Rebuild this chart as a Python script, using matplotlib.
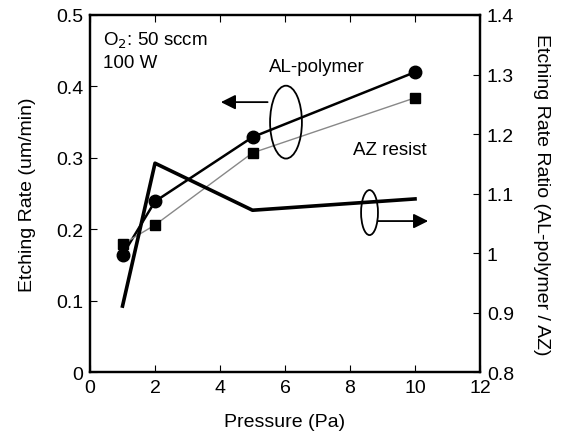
import matplotlib
matplotlib.use("Agg")
import matplotlib.pyplot as plt
from matplotlib.patches import Ellipse
from matplotlib.ticker import FuncFormatter

plt.rcParams['font.family'] = ['Liberation Sans', 'DejaVu Sans']

# data
pressure = [1, 2, 5, 10]
al_polymer = [0.164, 0.239, 0.329, 0.420]   # um/min
az_resist = [0.179, 0.206, 0.307, 0.384]    # um/min
ratio = [0.911, 1.151, 1.072, 1.091]        # AL-polymer / AZ

fig = plt.figure(figsize=(5.64, 4.39), dpi=100)
ax = fig.add_axes([0.1596, 0.150, 0.6915, 0.8136])
ax2 = ax.twinx()

ax.plot(pressure, al_polymer, "-", color="black", lw=1.8,
        marker="o", ms=9, zorder=3)
ax.plot(pressure, az_resist, "-", color="#888888", lw=1.0,
        marker="s", ms=7, mfc="black", mec="black", zorder=3)
ax2.plot(pressure, ratio, "-", color="black", lw=2.6)

ax.set_xlim(0, 12)
ax.set_ylim(0, 0.5)
ax2.set_ylim(0.8, 1.4)
ax.set_xticks(range(0, 13, 2))
ax.set_yticks([0, 0.1, 0.2, 0.3, 0.4, 0.5])
ax2.set_yticks([0.8, 0.9, 1.0, 1.1, 1.2, 1.3, 1.4])
fmt = FuncFormatter(lambda v, p: "%g" % round(v, 2))
ax.yaxis.set_major_formatter(fmt)
ax2.yaxis.set_major_formatter(fmt)

ax.tick_params(axis="x", direction="in", top=True, length=5, labelsize=14, pad=5)
ax.tick_params(axis="y", direction="in", length=5, labelsize=14, pad=5)
ax2.tick_params(axis="y", direction="in", length=5, labelsize=14, pad=5)
for a in (ax, ax2):
    for s in a.spines.values():
        s.set_linewidth(1.6)

ax.set_xlabel("Pressure (Pa)", fontsize=14, labelpad=12)
ax.set_ylabel("Etching Rate (um/min)", fontsize=14, labelpad=14)
ax2.set_ylabel("Etching Rate Ratio (AL-polymer / AZ)", fontsize=14,
               rotation=270, labelpad=26)

# annotations
ax.text(0.4, 0.465, "O$_2$: 50 sccm", fontsize=13.5, va="center")
ax.text(0.4, 0.434, "100 W", fontsize=13.5, va="center")
ax.text(5.5, 0.428, "AL-polymer", fontsize=13.5, va="center")
ax.text(8.1, 0.312, "AZ resist", fontsize=13.5, va="center")

ax.add_patch(Ellipse((6.03, 0.350), 0.98, 0.102, fill=False, lw=1.3,
                     color="black", zorder=4))
ax.annotate("", xy=(3.94, 0.378), xytext=(5.55, 0.378),
            arrowprops=dict(arrowstyle="-|>", color="black", lw=1.3,
                            mutation_scale=22))
ax.add_patch(Ellipse((8.6, 0.2234), 0.52, 0.063, fill=False, lw=1.3,
                     color="black", zorder=4))
ax.annotate("", xy=(10.49, 0.2115), xytext=(8.77, 0.2115),
            arrowprops=dict(arrowstyle="-|>", color="black", lw=1.3,
                            mutation_scale=22))

fig.savefig("out.png", dpi=100)
